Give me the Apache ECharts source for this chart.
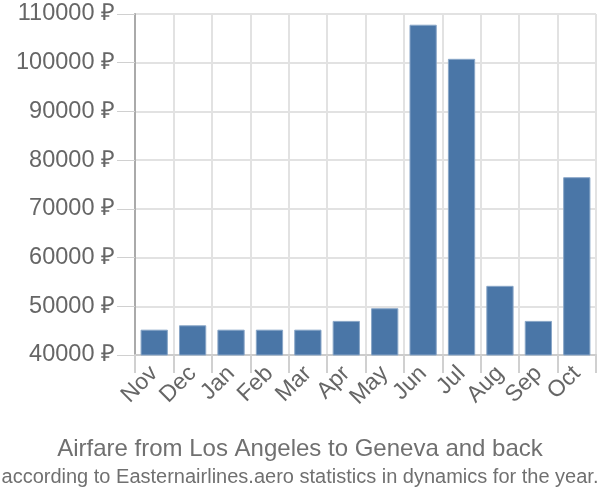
<!DOCTYPE html>
<html><head><meta charset="utf-8">
<script src="https://cdn.jsdelivr.net/npm/echarts@6/dist/echarts.min.js"></script>
<style>html,body{margin:0;padding:0;background:#fff}#c{width:600px;height:500px}</style>
</head><body><div id="c"></div>
<script>
const categories = ["Nov","Dec","Jan","Feb","Mar","Apr","May","Jun","Jul","Aug","Sep","Oct"];
const prices = [45200, 46100, 45200, 45200, 45200, 47000, 49600, 107800, 100800, 54200, 47000, 76500];
const titleText = "Airfare from Los Angeles to Geneva and back";
const subtitleText = "according to Easternairlines.aero statistics in dynamics for the year.";
const yMin = 40000, yMax = 110000, yStep = 10000;

const chart = echarts.init(document.getElementById('c'));
const font = "'Liberation Sans', Arial, sans-serif";
chart.setOption({
  animation: false,
  textStyle: {fontFamily: font},
  title: {
    text: titleText, subtext: subtitleText, left: 'center', top: 432, itemGap: 6,
    textStyle: {fontFamily: font, fontSize: 24, fontWeight: 'normal', color: '#707070'},
    subtextStyle: {fontFamily: font, fontSize: 20, color: '#707070'}
  },
  grid: {left: 135, right: 4, top: 14, bottom: 145, containLabel: false},
  xAxis: {
    type: 'category', data: categories, boundaryGap: true,
    axisLine: {show: true, lineStyle: {color: '#cccccc', width: 2}},
    axisTick: {show: true, length: 18, lineStyle: {color: '#d0d0d0', width: 2}},
    splitLine: {show: true, lineStyle: {color: '#e2e2e2', width: 2}},
    axisLabel: {rotate: 45, fontSize: 23, color: '#666666', margin: 15, fontFamily: font, interval: 0}
  },
  yAxis: {
    type: 'value', min: yMin, max: yMax, interval: yStep,
    axisLine: {show: true, lineStyle: {color: '#aaaaaa', width: 2}},
    axisTick: {show: true, length: 18, lineStyle: {color: '#d0d0d0', width: 1}},
    splitLine: {show: true, lineStyle: {color: '#e2e2e2', width: 2}},
    axisLabel: {fontSize: 23.5, color: '#666666', margin: 20, fontFamily: font,
      formatter: v => v + ' ₽'}
  },
  series: [{
    type: 'bar', data: prices, barWidth: '71%',
    itemStyle: {color: '#4a76a7', borderColor: '#8aa7c8', borderWidth: 1}
  }]
});
</script></body></html>
